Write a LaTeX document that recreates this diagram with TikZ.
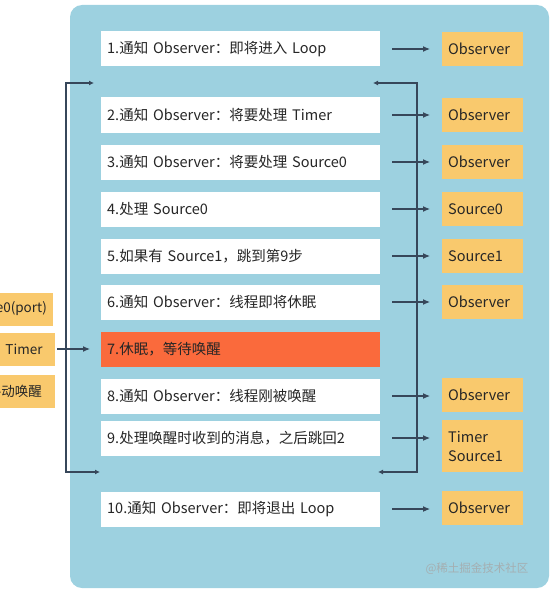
\documentclass[tikz,border=0pt]{standalone}
\usepackage{fontspec}
\setmainfont{Noto Sans CJK SC}
\definecolor{RPanel}{HTML}{9DD1E0}
\definecolor{RGold}{HTML}{F9C96D}
\definecolor{ROrange}{HTML}{FA6A3C}
\definecolor{RSlate}{HTML}{37475A}
\definecolor{RText}{HTML}{262626}
\usetikzlibrary{arrows.meta,positioning,calc}
\tikzset{
  stepbox/.style={rectangle,fill=white,anchor=west,minimum width=279pt,
    minimum height=35pt,inner xsep=6pt,align=left,text=RText,
    font=\fontsize{14.5}{17}\selectfont,text width=267pt},
  obsbox/.style={rectangle,fill=RGold,anchor=north west,minimum width=81pt,
    minimum height=34pt,inner xsep=6pt,align=left,text=RText,
    font=\fontsize{14.5}{19}\selectfont,text width=69pt},
  srcbox/.style={rectangle,fill=RGold,minimum height=33pt,text=RText,
    font=\fontsize{13.5}{16}\selectfont},
  flow/.style={draw=RSlate,line width=1.1pt,-{Latex[length=7pt,width=6pt]},
    shorten <=12pt,shorten >=12pt},
  loopline/.style={draw=RSlate,line width=1.1pt,
    {Latex[length=5pt,width=5pt]}-{Latex[length=5pt,width=5pt]}}
}
\begin{document}
\begin{tikzpicture}[x=1pt,y=-1pt]
  \useasboundingbox (0,0) rectangle (550,591);
  \clip (0,0) rectangle (550,591);
  \fill[RPanel,rounded corners=12pt] (70,5) rectangle (549,588);

  % steps of the loop
  \node[stepbox] (s1) at (101,49) {1.通知 Observer：即将进入 Loop};
  \node[stepbox] (s2) at (101,115) {2.通知 Observer：将要处理 Timer};
  \node[stepbox] (s3) at (101,162) {3.通知 Observer：将要处理 Source0};
  \node[stepbox] (s4) at (101,209) {4.处理 Source0};
  \node[stepbox] (s5) at (101,256) {5.如果有 Source1，跳到第9步};
  \node[stepbox] (s6) at (101,302) {6.通知 Observer：线程即将休眠};
  \node[stepbox,fill=ROrange] (s7) at (101,349) {7.休眠，等待唤醒};
  \node[stepbox] (s8) at (101,396) {8.通知 Observer：线程刚被唤醒};
  \node[stepbox] (s9) at (101,438) {9.处理唤醒时收到的消息，之后跳回2};
  \node[stepbox] (s10) at (101,509) {10.通知 Observer：即将退出 Loop};

  % what each step talks to
  \node[obsbox] (o1) at (442,32) {Observer};
  \node[obsbox] (o2) at (442,98) {Observer};
  \node[obsbox] (o3) at (442,145) {Observer};
  \node[obsbox] (o4) at (442,192) {Source0};
  \node[obsbox] (o5) at (442,239) {Source1};
  \node[obsbox] (o6) at (442,285) {Observer};
  \node[obsbox] (o8) at (442,378) {Observer};
  \node[obsbox,minimum height=52pt] (o9) at (442,420) {Timer\\Source1};
  \node[obsbox] (o10) at (442,491) {Observer};

  \foreach \i in {1,2,3,4,5,6,8,9,10}
    \draw[flow] (s\i.east) -- (s\i.east -| o\i.west);

  % wake-up sources, cut at the left edge
  \node[srcbox,anchor=east,inner xsep=6pt] (p) at (53,309) {Source0(port)};
  \node[srcbox,minimum width=62pt] (t) at (24,349) {Timer};
  \node[srcbox,anchor=east,inner xsep=13pt] (m) at (55,391) {外部手动唤醒};
  \draw[flow,shorten <=2pt,shorten >=11pt] (t.east) -- (s7.west);

  % loop brackets
  \coordinate (lt) at (94,83);
  \coordinate (lb) at (100,472);
  \coordinate (rt) at (373,83);
  \coordinate (rb) at (378,472);
  \draw[loopline] (lt) -- (66,83) -- (66,472) -- (lb);
  \draw[loopline] (rt) -- (417,83) -- (417,472) -- (rb);

  \node[text=gray!70,opacity=0.8,font=\fontsize{11.5}{13}\selectfont,anchor=east]
    (wm) at (532,569) {@稀土掘金技术社区};
\end{tikzpicture}
\end{document}
